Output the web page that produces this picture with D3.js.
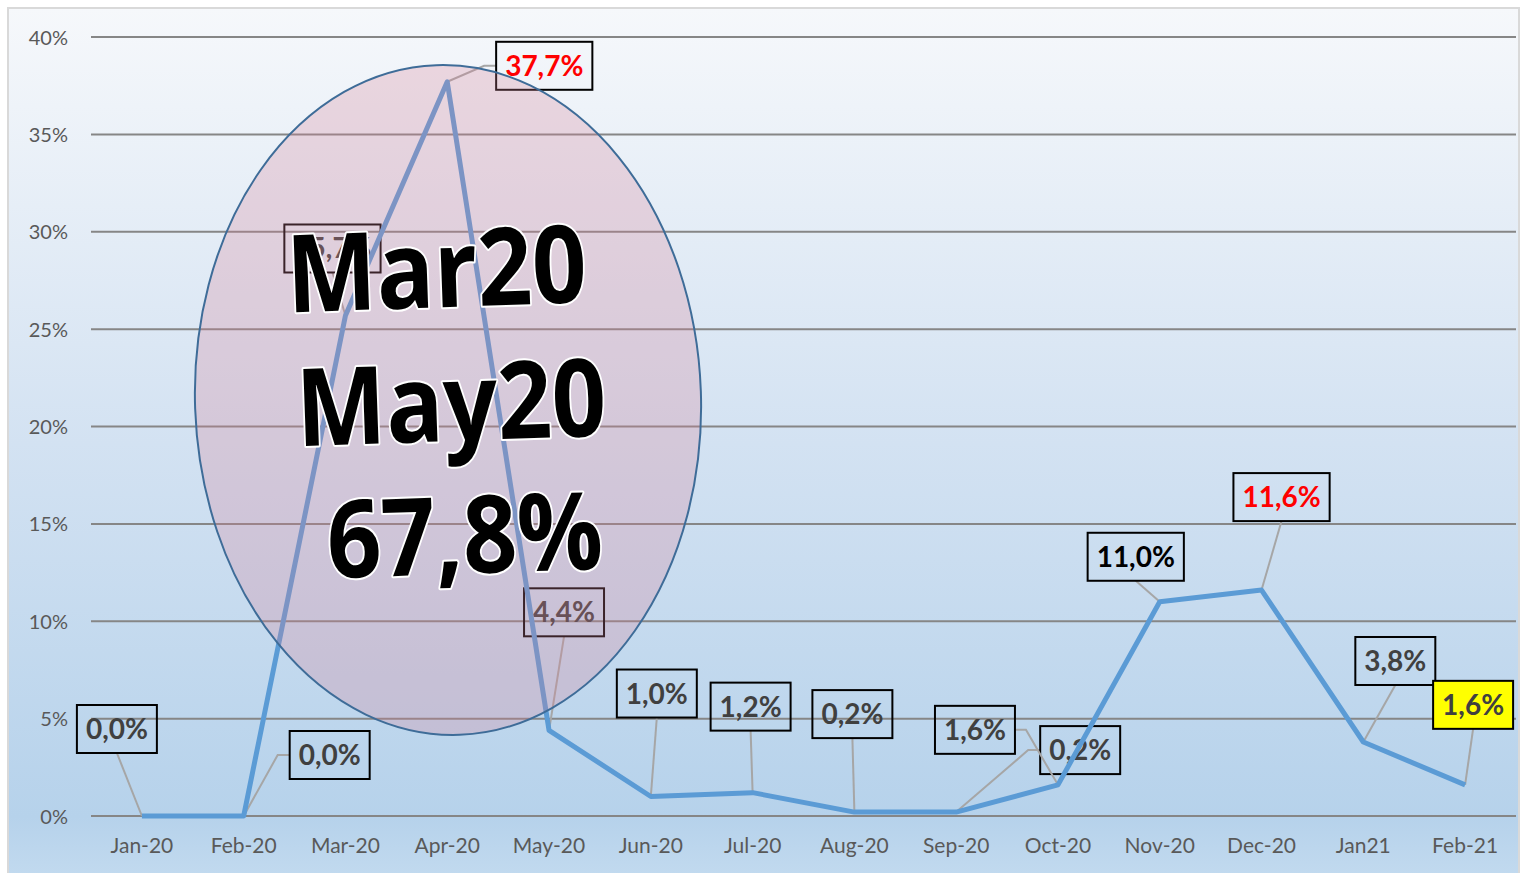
<!DOCTYPE html>
<html>
<head>
<meta charset="utf-8">
<script src="https://cdn.jsdelivr.net/npm/d3@7"></script>
<style>
    body { margin: 0; background: #ffffff; }
    #chart { width: 1526px; height: 873px; }
    .tick text { font-family: Lato, "Open Sans", sans-serif; }
</style>
</head>
<body>
<div id="chart"></div>
<script>
// data
var months = ["Jan-20", "Feb-20", "Mar-20", "Apr-20", "May-20", "Jun-20", "Jul-20",
    "Aug-20", "Sep-20", "Oct-20", "Nov-20", "Dec-20", "Jan21", "Feb-21"];
var values = [0.0, 0.0, 25.7, 37.7, 4.4, 1.0, 1.2, 0.2, 0.2, 1.6, 11.0, 11.6, 3.8, 1.6];
var yTicks = [0, 5, 10, 15, 20, 25, 30, 35, 40];
var calloutLines = ["Mar20", "May20", "67,8%"];

// where each data label sits, relative to its point (box centre), and how the leader attaches
var labelPos = [
    { dx: -25, dy: -87, lead: "bottom" },
    { dx: 86, dy: -61, lead: "left" },
    { dx: -13, dy: -67, lead: "bottom" },
    { dx: 97, dy: -16, lead: "left" },
    { dx: 15, dy: -118, lead: "bottom" },
    { dx: 6, dy: -103, lead: "bottom" },
    { dx: -2, dy: -86, lead: "bottom" },
    { dx: -2, dy: -98, lead: "bottom" },
    { dx: 124, dy: -62, lead: "left" },
    { dx: -83, dy: -55, lead: "right" },
    { dx: -24, dy: -45, lead: "bottom" },
    { dx: 20, dy: -93, lead: "bottom" },
    { dx: 32, dy: -81, lead: "bottom" },
    { dx: 8, dy: -80, lead: "bottom" }
];
var labelColour = function(i) {
    if (i == 3 || i == 11) return "#ff0000";
    if (i == 10) return "#000000";
    return "#404040";
};

var width = 1526;
var height = 873;

var svg = d3.select('#chart')
    .append('svg')
    .attr('width', width)
    .attr('height', height);

// background
var defs = svg.append('defs');
var grad = defs.append('linearGradient')
    .attr('id', 'bg')
    .attr('x1', 0).attr('y1', 0)
    .attr('x2', 0).attr('y2', 1);
grad.append('stop').attr('offset', '0%').attr('stop-color', '#f6f8fb');
grad.append('stop').attr('offset', '50%').attr('stop-color', '#d3e2f2');
grad.append('stop').attr('offset', '93%').attr('stop-color', '#b6d2eb');
grad.append('stop').attr('offset', '100%').attr('stop-color', '#c2daef');

svg.append('rect')
    .attr('x', 8).attr('y', 8)
    .attr('width', 1511).attr('height', 870)
    .attr('fill', 'url(#bg)')
    .attr('stroke', '#d9d9d9')
    .attr('stroke-width', 2);

var x_scale = d3.scaleBand()
    .domain(months)
    .range([91, 1516])
    .padding(0);

var y_scale = d3.scaleLinear()
    .domain([0, 40])
    .range([816, 37]);

function cx(d) {
    return x_scale(d) + x_scale.bandwidth() / 2;
}

// gridlines
svg.append('g')
    .selectAll('line')
    .data(yTicks)
    .enter()
    .append('line')
    .attr('x1', 91)
    .attr('x2', 1516)
    .attr('y1', function(d) { return y_scale(d); })
    .attr('y2', function(d) { return y_scale(d); })
    .attr('stroke', '#868686')
    .attr('stroke-width', 2);

// y axis
var y_axis = d3.axisLeft(y_scale)
    .tickValues(yTicks)
    .tickSize(0)
    .tickPadding(0)
    .tickFormat(function(d) { return d + '%'; });

var gy = svg.append('g')
    .attr('transform', 'translate(68,0)')
    .call(y_axis);
gy.select('.domain').remove();
gy.selectAll('text')
    .attr('font-size', 20)
    .attr('fill', '#595959')
    .attr('dy', '0.35em');

// x axis
var x_axis = d3.axisBottom(x_scale)
    .tickSize(0)
    .tickPadding(0);

var gx = svg.append('g')
    .attr('transform', 'translate(0,838)')
    .call(x_axis);
gx.select('.domain').remove();
gx.selectAll('text')
    .attr('font-size', 21)
    .attr('fill', '#595959')
    .attr('dy', '0.71em');

// data labels (boxes + leaders)
var points = months.map(function(m, i) {
    return { x: cx(m), y: y_scale(values[i]), v: values[i], i: i };
});

var labels = svg.append('g');
points.forEach(function(p) {
    var pos = labelPos[p.i];
    var bx = p.x + pos.dx;
    var by = p.y + pos.dy;
    var txt = p.v.toFixed(1).replace('.', ',') + '%';
    var g = labels.append('g');

    var t = g.append('text')
        .attr('x', bx)
        .attr('y', by + 10)
        .attr('text-anchor', 'middle')
        .attr('font-family', 'Lato, "Open Sans", sans-serif')
        .attr('font-weight', 'bold')
        .attr('font-size', 28)
        .attr('fill', labelColour(p.i))
        .text(txt);
    var tw = t.node().getComputedTextLength();
    var bw = tw + 18;
    var bh = 48;

    g.insert('rect', 'text')
        .attr('x', bx - bw / 2)
        .attr('y', by - bh / 2)
        .attr('width', bw)
        .attr('height', bh)
        .attr('fill', p.i == 13 ? '#ffff00' : 'none')
        .attr('stroke', '#000000')
        .attr('stroke-width', 2);

    var path;
    if (pos.lead == 'bottom') {
        path = [[bx, by + bh / 2], [p.x, p.y]];
    } else if (pos.lead == 'left') {
        path = [[bx - bw / 2, by], [bx - bw / 2 - 12, by], [p.x, p.y]];
    } else {
        path = [[bx + bw / 2, by], [bx + bw / 2 + 11, by], [p.x, p.y]];
    }
    g.insert('path', 'rect')
        .attr('d', d3.line()(path))
        .attr('fill', 'none')
        .attr('stroke', '#a6a6a6')
        .attr('stroke-width', 2);
});

// line
var line = d3.line()
    .x(function(d) { return d.x; })
    .y(function(d) { return d.y; });

svg.append('path')
    .datum(points)
    .attr('d', line)
    .attr('fill', 'none')
    .attr('stroke', '#5b9bd5')
    .attr('stroke-width', 5)
    .attr('stroke-linejoin', 'round');

// callout ellipse
svg.append('ellipse')
    .attr('cx', 448)
    .attr('cy', 400)
    .attr('rx', 253)
    .attr('ry', 335)
    .attr('transform', 'rotate(-2,448,400)')
    .attr('fill', 'rgba(215,130,150,0.27)')
    .attr('stroke', '#3e6c98')
    .attr('stroke-width', 2);

var callout = svg.append('g')
    .attr('transform', 'rotate(-2,450,400)');

var calloutPos = [
    { x: 441, y: 307, w: 300 },
    { x: 451, y: 441, w: 310 },
    { x: 460, y: 574, w: 276 }
];

callout.selectAll('text')
    .data(calloutLines)
    .enter()
    .append('text')
    .attr('x', function(d, i) { return calloutPos[i].x; })
    .attr('y', function(d, i) { return calloutPos[i].y; })
    .attr('text-anchor', 'middle')
    .attr('textLength', function(d, i) { return calloutPos[i].w; })
    .attr('lengthAdjust', 'spacingAndGlyphs')
    .attr('font-family', '"Open Sans", "DejaVu Sans", sans-serif')
    .attr('font-weight', 'bold')
    .attr('font-size', 108)
    .attr('fill', '#000000')
    .attr('stroke', '#ffffff')
    .attr('stroke-width', 4)
    .attr('paint-order', 'stroke')
    .attr('stroke-linejoin', 'round')
    .text(function(d) { return d; });
</script>
</body>
</html>
